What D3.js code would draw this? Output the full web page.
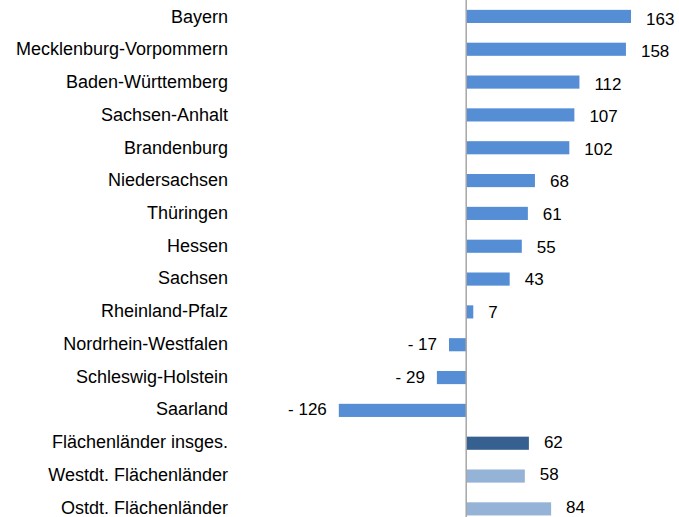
<!DOCTYPE html>
<html><head><meta charset="utf-8">
<script src="https://cdn.jsdelivr.net/npm/d3@7"></script>
<style>body{margin:0;background:#fff}svg{display:block}</style>
</head><body>
<script>
const categories = ["Bayern","Mecklenburg-Vorpommern","Baden-Württemberg","Sachsen-Anhalt","Brandenburg","Niedersachsen","Thüringen","Hessen","Sachsen","Rheinland-Pfalz","Nordrhein-Westfalen","Schleswig-Holstein","Saarland","Flächenländer insges.","Westdt. Flächenländer","Ostdt. Flächenländer"];
const values = [163,158,112,107,102,68,61,55,43,7,-17,-29,-126,62,58,84];
const groups = ["land","land","land","land","land","land","land","land","land","land","land","land","land","total","west","ost"];
const colors = {land:"#558ED5", total:"#35608F", west:"#95B3D7", ost:"#95B3D7"};

const W = 679, H = 517;
const FONT = "'Liberation Sans', Arial, sans-serif";
const svg = d3.select("body").append("svg").attr("width", W).attr("height", H);
const x = d3.scaleLinear().domain([-200, 200]).range([264, 668.4]);
const y = d3.scaleBand().domain(categories).range([0, 525.3]).paddingInner(0.6).paddingOuter(0.3);
const yCat = d3.scalePoint().domain(categories).range([16.3, 507.2]);
const yVal = d3.scalePoint().domain(categories).range([18.8, 507]);

const data = categories.map((c,i)=>({c, v: values[i], g: groups[i]}));

svg.selectAll("rect.bar").data(data).join("rect")
  .attr("class","bar")
  .attr("x", d => x(Math.min(0, d.v)))
  .attr("width", d => Math.abs(x(d.v) - x(0)))
  .attr("y", d => y(d.c))
  .attr("height", y.bandwidth())
  .attr("fill", d => colors[d.g]);

svg.append("line")
  .attr("x1", x(0)).attr("x2", x(0))
  .attr("y1", 0).attr("y2", H)
  .attr("stroke", "#A6A6A6").attr("stroke-width", 1.5);

svg.selectAll("text.cat").data(data).join("text")
  .attr("class","cat")
  .attr("x", 228)
  .attr("y", d => yCat(d.c))
  .attr("dy", "0.35em")
  .attr("text-anchor", "end")
  .attr("font-family", FONT)
  .attr("font-size", 18)
  .attr("fill", "#000")
  .text(d => d.c);

svg.selectAll("text.val").data(data).join("text")
  .attr("class","val")
  .attr("x", d => d.v >= 0 ? x(d.v) + 15 : x(d.v) - 12)
  .attr("y", d => yVal(d.c))
  .attr("dy", "0.35em")
  .attr("text-anchor", d => d.v >= 0 ? "start" : "end")
  .attr("font-family", FONT)
  .attr("font-size", 17)
  .attr("fill", "#000")
  .text(d => d.v < 0 ? "- " + Math.abs(d.v) : String(d.v));
</script>
</body></html>
